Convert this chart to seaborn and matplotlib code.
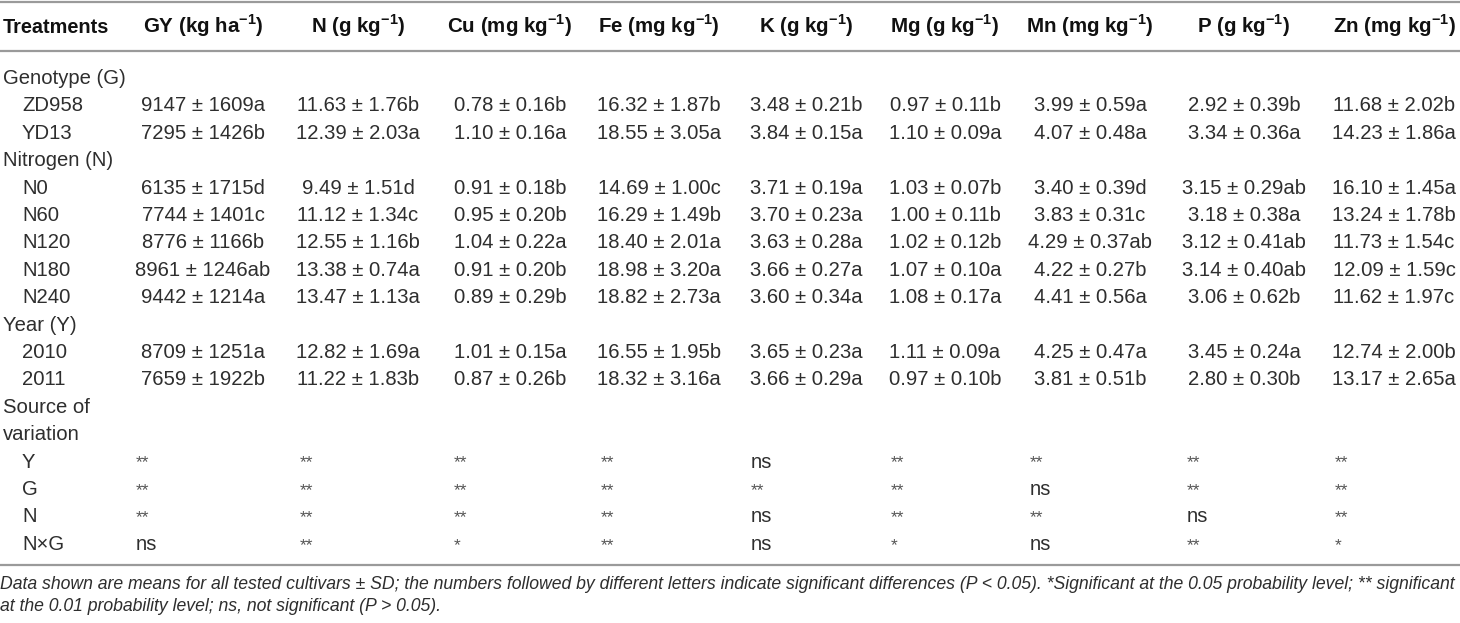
import matplotlib
matplotlib.use("Agg")
import matplotlib.pyplot as plt
import seaborn as sns

sns.set_theme(style="white")
plt.rcParams["font.family"] = ["Liberation Sans", "DejaVu Sans"]
plt.rcParams["mathtext.fontset"] = "custom"
plt.rcParams["mathtext.bf"] = "Liberation Sans:bold"
plt.rcParams["mathtext.rm"] = "Liberation Sans"

# ---- table content ----
headers = ["GY (kg ha$^{\\mathbf{-1}}$)", "N (g kg$^{\\mathbf{-1}}$)", "Cu (mg kg$^{\\mathbf{-1}}$)",
           "Fe (mg kg$^{\\mathbf{-1}}$)", "K (g kg$^{\\mathbf{-1}}$)", "Mg (g kg$^{\\mathbf{-1}}$)",
           "Mn (mg kg$^{\\mathbf{-1}}$)", "P (g kg$^{\\mathbf{-1}}$)", "Zn (mg kg$^{\\mathbf{-1}}$)"]

row_labels = ["Genotype (G)", "ZD958", "YD13", "Nitrogen (N)", "N0", "N60", "N120", "N180", "N240",
              "Year (Y)", "2010", "2011", "Source of", "variation", "Y", "G", "N", "N×G"]
row_indent = [0, 1, 1, 0, 1, 1, 1, 1, 1, 0, 1, 1, 0, 0, 1, 1, 1, 1]

value_rows = [1, 2, 4, 5, 6, 7, 8, 10, 11]
sig_rows = [14, 15, 16, 17]

gy = ["9147 ± 1609a", "7295 ± 1426b", "6135 ± 1715d", "7744 ± 1401c", "8776 ± 1166b",
      "8961 ± 1246ab", "9442 ± 1214a", "8709 ± 1251a", "7659 ± 1922b"]
n_ = ["11.63 ± 1.76b", "12.39 ± 2.03a", "9.49 ± 1.51d", "11.12 ± 1.34c", "12.55 ± 1.16b",
      "13.38 ± 0.74a", "13.47 ± 1.13a", "12.82 ± 1.69a", "11.22 ± 1.83b"]
cu = ["0.78 ± 0.16b", "1.10 ± 0.16a", "0.91 ± 0.18b", "0.95 ± 0.20b", "1.04 ± 0.22a",
      "0.91 ± 0.20b", "0.89 ± 0.29b", "1.01 ± 0.15a", "0.87 ± 0.26b"]
fe = ["16.32 ± 1.87b", "18.55 ± 3.05a", "14.69 ± 1.00c", "16.29 ± 1.49b", "18.40 ± 2.01a",
      "18.98 ± 3.20a", "18.82 ± 2.73a", "16.55 ± 1.95b", "18.32 ± 3.16a"]
k = ["3.48 ± 0.21b", "3.84 ± 0.15a", "3.71 ± 0.19a", "3.70 ± 0.23a", "3.63 ± 0.28a",
     "3.66 ± 0.27a", "3.60 ± 0.34a", "3.65 ± 0.23a", "3.66 ± 0.29a"]
mg = ["0.97 ± 0.11b", "1.10 ± 0.09a", "1.03 ± 0.07b", "1.00 ± 0.11b", "1.02 ± 0.12b",
      "1.07 ± 0.10a", "1.08 ± 0.17a", "1.11 ± 0.09a", "0.97 ± 0.10b"]
mn = ["3.99 ± 0.59a", "4.07 ± 0.48a", "3.40 ± 0.39d", "3.83 ± 0.31c", "4.29 ± 0.37ab",
      "4.22 ± 0.27b", "4.41 ± 0.56a", "4.25 ± 0.47a", "3.81 ± 0.51b"]
p = ["2.92 ± 0.39b", "3.34 ± 0.36a", "3.15 ± 0.29ab", "3.18 ± 0.38a", "3.12 ± 0.41ab",
     "3.14 ± 0.40ab", "3.06 ± 0.62b", "3.45 ± 0.24a", "2.80 ± 0.30b"]
zn = ["11.68 ± 2.02b", "14.23 ± 1.86a", "16.10 ± 1.45a", "13.24 ± 1.78b", "11.73 ± 1.54c",
      "12.09 ± 1.59c", "11.62 ± 1.97c", "12.74 ± 2.00b", "13.17 ± 2.65a"]
values = [gy, n_, cu, fe, k, mg, mn, p, zn]

# significance for Y, G, N, NxG
sig = [["**", "**", "**", "ns"], ["**", "**", "**", "**"], ["**", "**", "**", "*"],
       ["**", "**", "**", "**"], ["ns", "**", "ns", "ns"], ["**", "**", "**", "*"],
       ["**", "ns", "**", "ns"], ["**", "**", "ns", "**"], ["**", "**", "**", "*"]]

footnote = ["Data shown are means for all tested cultivars ± SD; the numbers followed by different letters "
            "indicate significant differences (P < 0.05). *Significant at the 0.05 probability level; ** significant",
            "at the 0.01 probability level; ns, not significant (P > 0.05)."]

# ---- layout (pixel units) ----
col_center = [203, 358, 510, 659, 806, 945, 1090, 1244, 1394]
col_left = [136, 300, 454, 601, 751, 891, 1030, 1187, 1335]
header_y = 26
row0_y = 77
row_h = 27.4
cap = 7
fs = 14.6
txt_color = "#2e2e2e"
line_color = "#9a9a9a"

fig = plt.figure(figsize=(14.6, 6.23), dpi=100)
ax = fig.add_axes([0, 0, 1, 1])
ax.set_xlim(0, 1460)
ax.set_ylim(623, 0)
ax.axis("off")

for y in [1.5, 51, 565]:
    ax.axhline(y, color=line_color, lw=1.6)

ax.text(3, header_y + cap, "Treatments", fontsize=14.3, fontweight="bold", color="#111111", va="baseline")
for x, h in zip(col_center, headers):
    ax.text(x, header_y + cap, h, fontsize=14.8, fontweight="bold", color="#111111",
            ha="center", va="baseline")

for i, (lab, ind) in enumerate(zip(row_labels, row_indent)):
    y = row0_y + i * row_h + cap
    ax.text(3 + 19 * ind, y, lab, fontsize=fs, color=txt_color, va="baseline")

for c, col in enumerate(values):
    for r, v in zip(value_rows, col):
        y = row0_y + r * row_h + cap
        ax.text(col_center[c], y, v, fontsize=fs, color=txt_color, ha="center", va="baseline")
    for r, s in zip(sig_rows, sig[c]):
        y = row0_y + r * row_h + cap
        if s == "ns":
            ax.text(col_left[c], y, s, fontsize=fs, color=txt_color, va="baseline")
        else:
            ax.text(col_left[c], y, s, fontsize=fs - 2, color="#555555", va="baseline")

for j, line in enumerate(footnote):
    ax.text(0, 583 + 22 * j + 6, line, fontsize=12.7, style="italic", color=txt_color,
            va="baseline")

fig.savefig("out.png", dpi=100)
